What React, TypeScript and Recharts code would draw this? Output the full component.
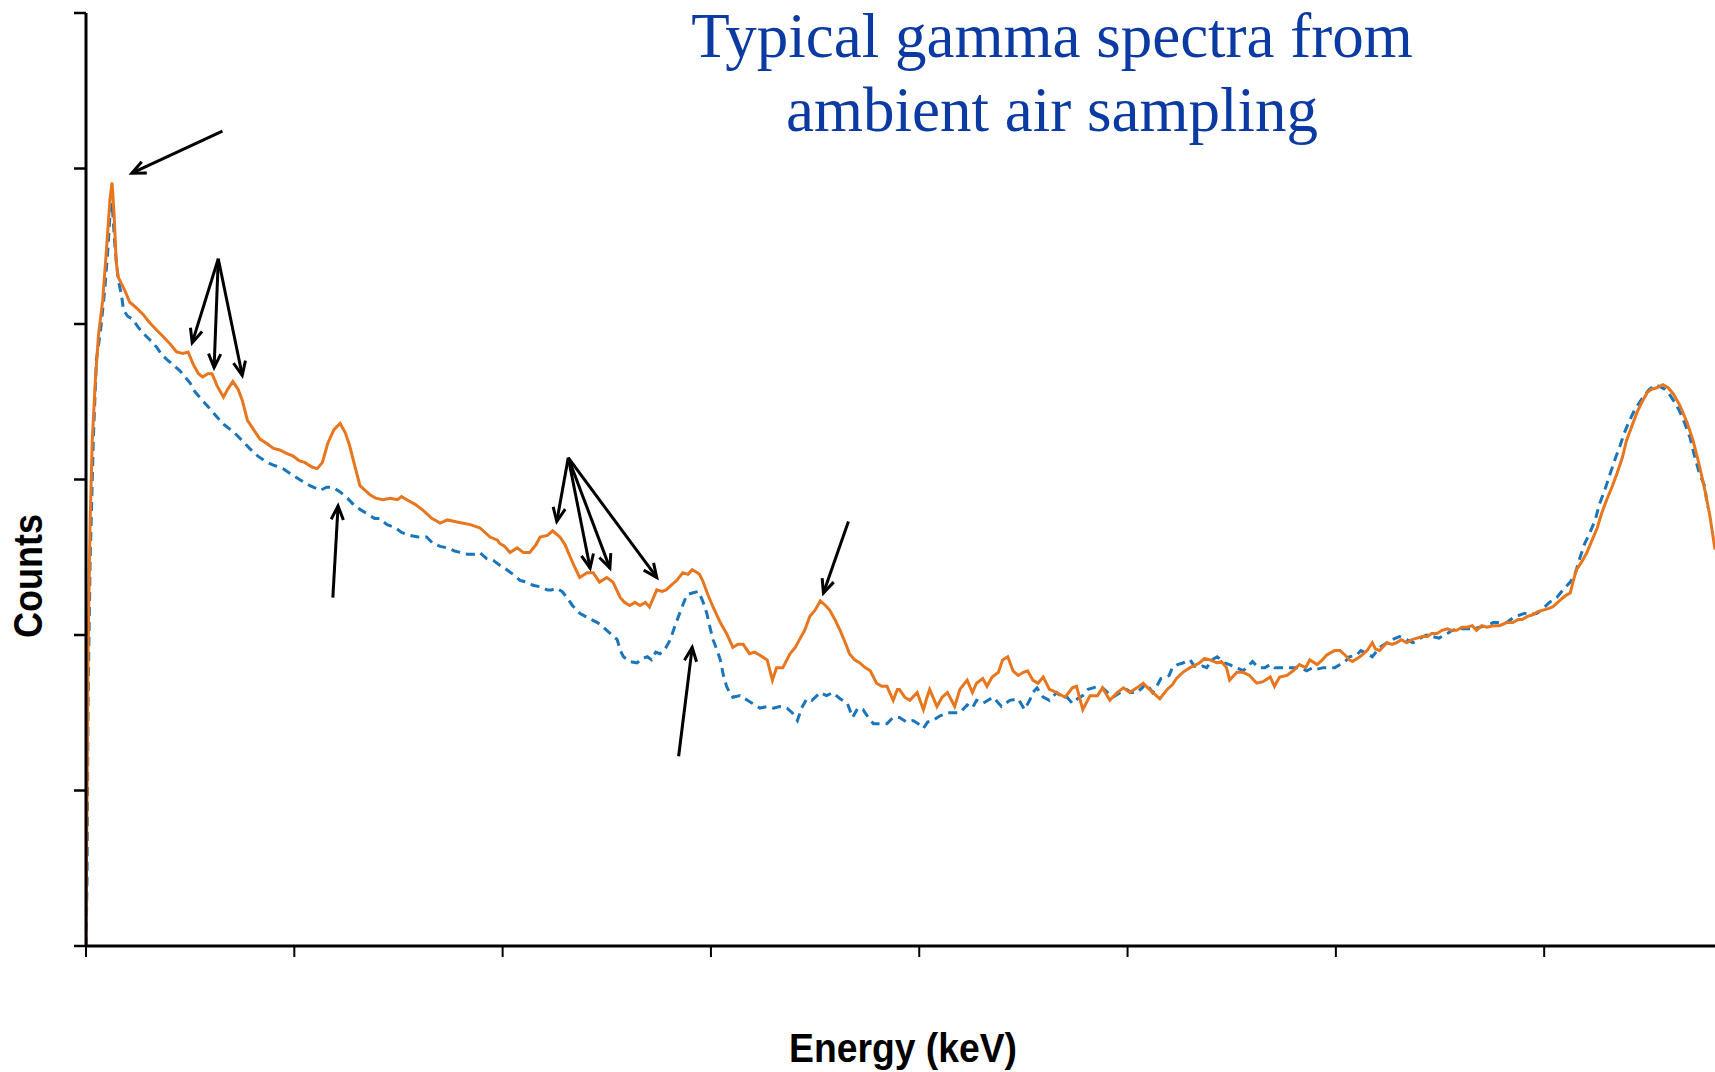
import React from "react";
import { LineChart, Line, XAxis, YAxis, ReferenceLine } from "recharts";

// air filter sample (solid orange) and reference spectrum (dashed blue)
const sampleKeV = [
  0, 1, 2, 4, 6, 9, 12, 16, 20, 23, 25, 27, 29, 31, 34, 37, 42, 49, 55, 61, 68, 74, 81, 87, 93, 98,
  103, 108, 112, 117, 121, 126, 132, 136, 141, 146, 150, 155, 160, 167, 174, 180, 186, 192, 199, 205,
  210, 217, 222, 227, 232, 238, 244, 249, 253, 258, 263, 268, 273, 278, 285, 292, 299, 303, 308, 316,
  324, 332, 340, 347, 354, 361, 369, 378, 388, 395, 397, 402, 407, 414, 420, 426, 432, 436, 443, 448,
  455, 460, 465, 469, 474, 481, 487, 493, 500, 506, 513, 517, 522, 527, 532, 537, 541, 548, 553, 557,
  562, 567, 573, 578, 582, 587, 589, 592, 597, 602, 609, 615, 621, 626, 631, 637, 642, 647, 654, 659,
  663, 669, 676, 681, 685, 690, 695, 700, 705, 710, 714, 719, 724, 729, 733, 738, 743, 748, 753, 759,
  764, 769, 775, 779, 781, 786, 791, 798, 804, 807, 810, 817, 822, 827, 831, 834, 839, 846, 851, 855,
  861, 865, 870, 876, 880, 885, 890, 895, 900, 904, 909, 914, 919, 925, 932, 940, 947, 951, 957, 964,
  971, 976, 983, 990, 996, 1002, 1009, 1015, 1021, 1031, 1038, 1043, 1047, 1053, 1060, 1069, 1074,
  1079, 1086, 1090, 1095, 1098, 1105, 1111, 1117, 1124, 1130, 1137, 1141, 1146, 1153, 1159, 1165,
  1171, 1175, 1182, 1187, 1191, 1196, 1199, 1204, 1209, 1213, 1216, 1223, 1230, 1235, 1238, 1242,
  1249, 1254, 1258, 1263, 1268, 1273, 1278, 1283, 1288, 1292, 1297, 1302, 1307, 1311, 1316, 1321,
  1326, 1331, 1335, 1340, 1345, 1351, 1357, 1364, 1370, 1375, 1379, 1384, 1389, 1394, 1399, 1404,
  1408, 1413, 1418, 1422, 1425, 1428, 1431, 1436, 1441, 1446, 1451, 1455, 1460, 1465, 1470, 1475,
  1479, 1484, 1489, 1494, 1499, 1503, 1508, 1514, 1519, 1524, 1530, 1537, 1543, 1549, 1554, 1559, 1564,
];
const sampleCounts = [
  0, 94, 190, 274, 325, 364, 393, 415, 451, 480, 491, 470, 440, 430, 426, 422, 414, 410, 406, 401, 396,
  392, 387, 382, 381, 382, 374, 368, 366, 368, 368, 360, 353, 358, 363, 358, 351, 338, 333, 326, 323,
  320, 319, 317, 315, 312, 311, 308, 307, 311, 323, 332, 336, 330, 322, 309, 296, 293, 290, 288, 287,
  288, 287, 289, 287, 284, 280, 275, 272, 274, 273, 272, 271, 269, 263, 261, 259, 257, 253, 256, 253,
  253, 258, 263, 264, 267, 263, 258, 250, 244, 237, 240, 240, 234, 237, 234, 224, 221, 219, 221, 219,
  221, 218, 229, 228, 229, 232, 235, 240, 239, 242, 240, 239, 235, 226, 218, 208, 201, 192, 194, 194,
  188, 189, 187, 184, 171, 179, 179, 188, 192, 197, 203, 212, 216, 222, 219, 216, 210, 203, 195, 188,
  184, 182, 179, 177, 169, 167, 167, 158, 165, 165, 160, 158, 163, 152, 159, 165, 154, 160, 163, 158,
  154, 165, 171, 163, 169, 172, 167, 173, 176, 184, 186, 177, 174, 176, 177, 171, 169, 173, 165, 163,
  160, 166, 167, 152, 161, 161, 166, 158, 163, 166, 163, 166, 169, 165, 159, 165, 168, 172, 176, 179,
  182, 185, 184, 182, 183, 179, 171, 176, 176, 174, 169, 170, 173, 167, 173, 174, 177, 181, 179, 184,
  181, 184, 187, 189, 190, 190, 187, 184, 183, 186, 190, 195, 191, 190, 195, 194, 195, 197, 195, 197,
  198, 199, 199, 201, 201, 203, 204, 203, 203, 205, 205, 206, 203, 206, 205, 206, 206, 208, 208, 210,
  210, 212, 213, 215, 216, 217, 218, 221, 224, 226, 227, 235, 242, 247, 253, 261, 269, 278, 287, 295,
  304, 314, 325, 334, 343, 350, 356, 358, 359, 361, 359, 355, 348, 337, 325, 309, 294, 277, 255,
];

const referenceKeV = [
  0, 1, 2, 4, 7, 10, 14, 18, 21, 23, 25, 28, 31, 34, 36, 40, 45, 50, 55, 61, 68, 73, 78, 83, 90, 95,
  100, 104, 109, 117, 126, 133, 141, 150, 157, 165, 174, 181, 189, 198, 205, 215, 225, 231, 237, 244,
  251, 258, 265, 270, 277, 282, 289, 297, 303, 311, 319, 327, 333, 340, 347, 354, 366, 373, 378, 385,
  391, 397, 404, 410, 417, 423, 429, 436, 443, 447, 452, 457, 462, 467, 474, 482, 491, 495, 500, 505,
  510, 513, 516, 522, 529, 534, 539, 543, 547, 551, 556, 561, 565, 570, 574, 577, 582, 588, 592, 596,
  599, 602, 606, 609, 612, 615, 618, 621, 628, 635, 640, 647, 654, 660, 666, 673, 678, 683, 687, 692,
  697, 705, 711, 717, 724, 731, 736, 741, 746, 751, 756, 762, 769, 775, 781, 788, 794, 799, 804, 808,
  813, 820, 827, 832, 839, 846, 851, 855, 861, 866, 871, 879, 887, 895, 901, 906, 909, 913, 919, 925,
  932, 937, 942, 947, 952, 957, 962, 967, 971, 976, 981, 986, 993, 999, 1004, 1009, 1014, 1018, 1024,
  1028, 1032, 1037, 1040, 1043, 1048, 1053, 1060, 1064, 1067, 1072, 1076, 1081, 1086, 1090, 1093,
  1098, 1103, 1108, 1111, 1116, 1120, 1124, 1127, 1132, 1137, 1141, 1146, 1153, 1159, 1165, 1172,
  1178, 1182, 1188, 1194, 1199, 1204, 1209, 1213, 1220, 1224, 1230, 1235, 1242, 1249, 1254, 1261,
  1268, 1274, 1281, 1287, 1293, 1299, 1307, 1312, 1319, 1326, 1332, 1338, 1345, 1351, 1357, 1364,
  1370, 1377, 1381, 1386, 1393, 1399, 1405, 1412, 1418, 1425, 1430, 1434, 1439, 1444, 1449, 1453,
  1458, 1463, 1468, 1473, 1477, 1482, 1487, 1492, 1496, 1501, 1507, 1513, 1516, 1520, 1525, 1530,
  1535, 1540, 1544, 1549, 1554, 1557, 1562,
];
const referenceCounts = [
  0, 42, 158, 248, 325, 377, 396, 422, 448, 470, 478, 448, 428, 419, 409, 405, 403, 398, 394, 390,
  385, 380, 377, 374, 370, 366, 362, 357, 353, 347, 340, 335, 331, 325, 320, 315, 311, 309, 307, 303,
  300, 296, 293, 295, 295, 292, 288, 283, 280, 278, 275, 275, 271, 269, 266, 264, 263, 263, 259, 257,
  256, 254, 252, 252, 253, 249, 248, 245, 242, 239, 235, 234, 232, 231, 229, 229, 230, 228, 224, 219,
  214, 211, 208, 206, 203, 200, 197, 190, 186, 183, 182, 185, 186, 184, 189, 188, 191, 197, 205, 214,
  221, 226, 227, 228, 222, 214, 205, 197, 190, 184, 174, 167, 163, 160, 161, 158, 156, 153, 154, 153,
  154, 153, 150, 145, 153, 159, 158, 163, 161, 163, 159, 156, 147, 153, 152, 147, 143, 143, 143, 147,
  147, 144, 145, 143, 140, 144, 145, 148, 150, 150, 150, 155, 153, 158, 156, 158, 160, 154, 158, 159,
  152, 158, 163, 166, 160, 158, 163, 160, 160, 156, 159, 161, 165, 166, 167, 166, 163, 160, 163, 165,
  163, 163, 166, 169, 163, 167, 172, 173, 174, 179, 181, 182, 184, 180, 179, 180, 179, 184, 186, 184,
  182, 181, 179, 178, 177, 180, 183, 180, 179, 179, 181, 179, 179, 179, 179, 179, 177, 179, 178, 179,
  179, 179, 181, 183, 186, 187, 190, 188, 186, 192, 195, 197, 199, 197, 195, 198, 200, 199, 198, 201,
  203, 204, 204, 204, 205, 206, 208, 208, 208, 211, 213, 214, 213, 214, 217, 221, 224, 229, 234, 240,
  249, 259, 266, 274, 284, 293, 303, 313, 322, 330, 338, 345, 350, 354, 358, 361, 359, 358, 355, 350,
  344, 336, 327, 316, 304, 296, 282,
];

const energyTicks = [0, 200, 400, 600, 800, 1000, 1200, 1400];
const countTicks = [0, 100, 200, 300, 400, 500, 600];

// peak markers: [tail keV, tail counts, tip keV, tip counts]
const peakArrows = [
  [131, 524, 44, 497],
  [127, 442, 102, 388],
  [127, 442, 123, 372],
  [127, 442, 150, 367],
  [237, 224, 242, 283],
  [463, 314, 452, 273],
  [463, 314, 484, 243],
  [463, 314, 503, 243],
  [463, 314, 548, 237],
  [569, 122, 582, 192],
  [732, 273, 708, 227],
];

const titleLines = ["Typical gamma spectra from", "ambient air sampling"];
const xLabel = "Energy (keV)";
const yLabel = "Counts";

const sample = sampleKeV.map((e, i) => ({ e, c: sampleCounts[i] }));
const reference = referenceKeV.map((e, i) => ({ e, c: referenceCounts[i] }));

function Arrow(props: any) {
  const { x1, y1, x2, y2 } = props;
  const a = Math.atan2(y2 - y1, x2 - x1);
  const len = 15;
  const spread = 0.42;
  const p1 = `${x2 - len * Math.cos(a - spread)},${y2 - len * Math.sin(a - spread)}`;
  const p2 = `${x2 - len * Math.cos(a + spread)},${y2 - len * Math.sin(a + spread)}`;
  return (
    <g>
      <line x1={x1} y1={y1} x2={x2} y2={y2} stroke="#000" strokeWidth={3} />
      <polyline points={`${p1} ${x2},${y2} ${p2}`} fill="none" stroke="#000" strokeWidth={3} />
    </g>
  );
}

export default function App() {
  return (
    <div style={{ position: "absolute", left: 0, top: 0, width: 1715, height: 1072, background: "#fff" }}>
      <LineChart width={1715} height={1072} margin={{ top: 13, right: 0, left: 66, bottom: 96 }}>
        <XAxis
          dataKey="e"
          type="number"
          domain={[0, 1564]}
          ticks={energyTicks}
          allowDataOverflow
          tickSize={11}
          tickFormatter={() => ""}
          axisLine={{ stroke: "#000", strokeWidth: 3 }}
          tickLine={{ stroke: "#000", strokeWidth: 2 }}
        />
        <YAxis
          type="number"
          domain={[0, 600]}
          ticks={countTicks}
          width={20}
          allowDataOverflow
          tickSize={12}
          tickFormatter={() => ""}
          axisLine={{ stroke: "#000", strokeWidth: 3 }}
          tickLine={{ stroke: "#000", strokeWidth: 2.5 }}
        />
        <Line
          data={reference}
          dataKey="c"
          type="linear"
          stroke="#1b75bb"
          strokeWidth={3}
          strokeDasharray="9 6"
          dot={false}
          isAnimationActive={false}
        />
        <Line
          data={sample}
          dataKey="c"
          type="linear"
          stroke="#e8761e"
          strokeWidth={3}
          dot={false}
          isAnimationActive={false}
        />
        {peakArrows.map(([x1, y1, x2, y2], i) => (
          <ReferenceLine
            key={i}
            segment={[
              { x: x1, y: y1 },
              { x: x2, y: y2 },
            ]}
            shape={Arrow}
          />
        ))}
      </LineChart>
      <svg
        width={1715}
        height={1072}
        style={{ position: "absolute", left: 0, top: 0, pointerEvents: "none" }}
      >
        <g fontFamily='"Liberation Serif", "Times New Roman", serif' fontSize={63} fill="#0b3ba2" textAnchor="middle">
          <text x={1052} y={57}>{titleLines[0]}</text>
          <text x={1052} y={131}>{titleLines[1]}</text>
        </g>
        <g fontFamily='"Liberation Sans", Arial, sans-serif' fontWeight="bold" fontSize={40} fill="#000" textAnchor="middle">
          <text x={903} y={1062} textLength={228} lengthAdjust="spacingAndGlyphs">
            {xLabel}
          </text>
          <text
            transform="translate(42,576) rotate(-90)"
            textLength={124}
            lengthAdjust="spacingAndGlyphs"
          >
            {yLabel}
          </text>
        </g>
      </svg>
    </div>
  );
}
